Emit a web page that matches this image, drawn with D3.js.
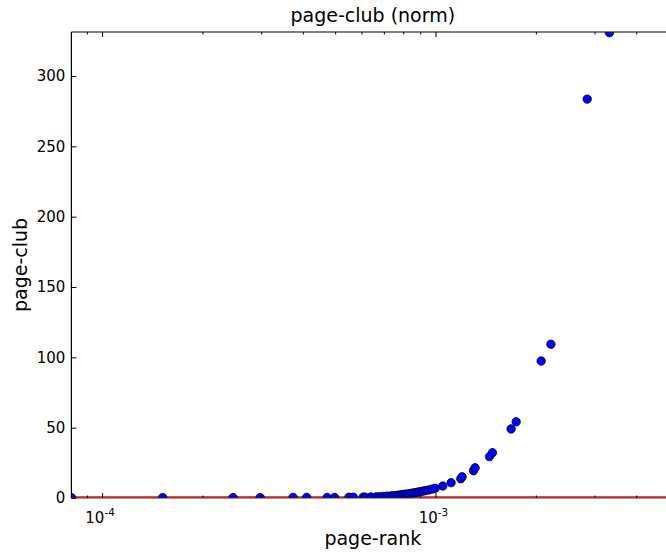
<!DOCTYPE html>
<html>
<head>
<meta charset="utf-8">
<script src="https://cdn.jsdelivr.net/npm/d3@7/dist/d3.min.js"></script>
<style>
  html, body { margin: 0; padding: 0; background: #fff; }
  svg { display: block; font-family: "DejaVu Sans", sans-serif; }
</style>
</head>
<body>
<svg id="chart" width="666" height="557"></svg>
<script>
// ---- data ----
const pageRank = [
  8.09e-5, 1.52e-4, 2.47e-4, 2.98e-4, 3.74e-4, 4.11e-4, 4.73e-4, 4.98e-4,
  5.50e-4, 5.67e-4, 6.07e-4, 6.15e-4, 6.40e-4, 6.64e-4, 6.80e-4, 6.97e-4,
  7.15e-4, 7.36e-4, 7.50e-4, 7.66e-4, 7.80e-4, 7.93e-4, 8.05e-4, 8.20e-4,
  8.35e-4, 8.49e-4, 8.65e-4, 8.79e-4, 8.95e-4, 9.14e-4, 9.30e-4, 9.53e-4,
  9.75e-4, 9.98e-4, 1.052e-3, 1.114e-3, 1.191e-3, 1.202e-3, 1.300e-3,
  1.315e-3, 1.452e-3, 1.482e-3, 1.686e-3, 1.746e-3, 2.075e-3, 2.219e-3,
  2.851e-3, 3.324e-3
];
const pageClub = [
  0.3, 0.3, 0.3, 0.3, 0.4, 0.4, 0.4, 0.4,
  0.5, 0.5, 0.6, 0.6, 0.7, 0.8, 0.9, 1.1,
  1.3, 1.5, 1.7, 1.9, 2.1, 2.4, 2.6, 2.8,
  3.1, 3.4, 3.7, 4.0, 4.4, 4.8, 5.2, 5.7,
  6.3, 6.9, 8.5, 10.9, 13.7, 15.1, 19.4,
  21.5, 29.4, 32.2, 49.1, 54.2, 97.4, 109.3,
  283.6, 330.8
];
const yTicks = [0, 50, 100, 150, 200, 250, 300];
const xMajorExponents = [-4, -3, -2];
const titleText = "page-club (norm)";
const xLabelText = "page-rank";
const yLabelText = "page-club";

// ---- layout ----
const svg = d3.select("#chart");
const pLeft = 71.4, pRight = 674.2, pTop = 32, pBottom = 498;

const x = d3.scaleLog().domain([8.09e-5, 5.2e-3]).range([pLeft, pRight]);
const y = d3.scaleLinear().domain([0, 331.3]).range([pBottom, pTop]);

svg.append("defs").append("clipPath").attr("id", "plotclip")
  .append("rect").attr("x", pLeft).attr("y", pTop)
  .attr("width", pRight - pLeft).attr("height", pBottom - pTop);

// zero reference line (red)
svg.append("line")
  .attr("x1", pLeft).attr("x2", pRight)
  .attr("y1", y(0) - 1).attr("y2", y(0) - 1)
  .attr("stroke", "#ff0000").attr("stroke-width", 1.5);

// points
svg.append("g").attr("clip-path", "url(#plotclip)")
  .selectAll("circle")
  .data(pageRank.map((d, i) => [d, pageClub[i]]))
  .join("circle")
  .attr("cx", d => x(d[0]))
  .attr("cy", d => y(d[1]))
  .attr("r", 4.2)
  .attr("fill", "#0000ff")
  .attr("stroke", "#000")
  .attr("stroke-width", 0.8);

// ---- axes (ticks pointing inward, matplotlib classic style) ----
const [d0, d1] = x.domain();
const minorTicks = [];
for (let e = -5; e <= -2; e++) {
  for (let m = 2; m <= 9; m++) {
    const v = m * Math.pow(10, e);
    if (v >= d0 && v <= d1) minorTicks.push(v);
  }
}
const majorTicks = xMajorExponents.map(e => Math.pow(10, e)).filter(v => v >= d0 && v <= d1);

function styleTicks(g) {
  g.select(".domain").remove();
  g.selectAll(".tick line").attr("stroke", "#000");
}

// bottom axis
svg.append("g").attr("transform", `translate(0,${pBottom})`)
  .call(d3.axisBottom(x).tickValues(majorTicks).tickSize(-5).tickFormat(() => ""))
  .call(styleTicks);
svg.append("g").attr("transform", `translate(0,${pBottom})`)
  .call(d3.axisBottom(x).tickValues(minorTicks).tickSize(-2.5).tickFormat(() => ""))
  .call(styleTicks);

// top axis
svg.append("g").attr("transform", `translate(0,${pTop})`)
  .call(d3.axisTop(x).tickValues(majorTicks).tickSize(-5).tickFormat(() => ""))
  .call(styleTicks);
svg.append("g").attr("transform", `translate(0,${pTop})`)
  .call(d3.axisTop(x).tickValues(minorTicks).tickSize(-2.5).tickFormat(() => ""))
  .call(styleTicks);

// x tick labels with superscripts
majorTicks.forEach(v => {
  const e = Math.round(Math.log10(v));
  const t = svg.append("text")
    .attr("x", x(v) - 2).attr("y", pBottom + 25)
    .attr("text-anchor", "middle")
    .attr("font-size", 15).attr("fill", "#000");
  t.append("tspan").text("10");
  t.append("tspan").attr("dy", -7).attr("font-size", 10.5).text(String(e));
});

// left axis
const yAxis = svg.append("g").attr("transform", `translate(${pLeft},0)`)
  .call(d3.axisLeft(y).tickValues(yTicks).tickSize(-5).tickPadding(6).tickFormat(d3.format("d")))
  .call(styleTicks);
yAxis.selectAll(".tick text")
  .attr("font-size", 15).attr("fill", "#000")
  .attr("font-family", "DejaVu Sans, sans-serif");

// right axis (mostly off-canvas)
svg.append("g").attr("transform", `translate(${pRight},0)`)
  .call(d3.axisRight(y).tickValues(yTicks).tickSize(-5).tickFormat(() => ""))
  .call(styleTicks);

// spines
const spine = svg.append("g").attr("fill", "none").attr("stroke", "#000").attr("stroke-width", 1.2);
spine.append("line").attr("x1", pLeft).attr("x2", pLeft).attr("y1", pTop).attr("y2", pBottom);
spine.append("line").attr("x1", pRight).attr("x2", pRight).attr("y1", pTop).attr("y2", pBottom);
spine.append("line").attr("x1", pLeft).attr("x2", pRight).attr("y1", pTop).attr("y2", pTop);
spine.append("line").attr("x1", pLeft).attr("x2", pRight).attr("y1", pBottom).attr("y2", pBottom)
  .attr("stroke", "#333");

// title and labels
svg.append("text")
  .attr("x", (pLeft + pRight) / 2).attr("y", 22)
  .attr("text-anchor", "middle").attr("font-size", 19).attr("fill", "#000")
  .text(titleText);
svg.append("text")
  .attr("x", (pLeft + pRight) / 2).attr("y", 545)
  .attr("text-anchor", "middle").attr("font-size", 19).attr("fill", "#000")
  .text(xLabelText);
svg.append("text")
  .attr("transform", `translate(27,${(pTop + pBottom) / 2}) rotate(-90)`)
  .attr("text-anchor", "middle").attr("font-size", 19).attr("fill", "#000")
  .text(yLabelText);
</script>
</body>
</html>
